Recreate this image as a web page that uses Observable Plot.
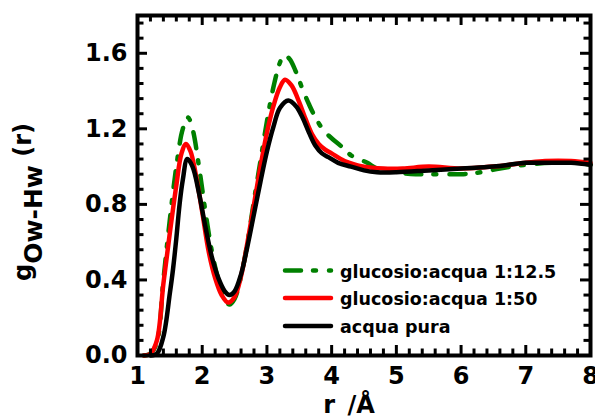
<!DOCTYPE html>
<html><head><meta charset="utf-8">
<script src="https://cdn.jsdelivr.net/npm/d3@7"></script>
<script src="https://cdn.jsdelivr.net/npm/@observablehq/plot@0.6"></script>
<style>body{margin:0;background:#fff}svg{display:block}</style>
</head><body><div id="chart"></div>
<script>
// ---- data ----
const seriesNames = ["glucosio:acqua 1:12.5", "glucosio:acqua 1:50", "acqua pura"];
const seriesColors = ["#008000", "#ff0000", "#000000"];

const rGreen = [1.1,1.2,1.3,1.4,1.5,1.6,1.7,1.78,1.85,1.95,2.05,2.15,2.25,2.35,2.42,2.5,2.6,2.7,2.8,2.9,3.0,3.1,3.2,3.26,3.35,3.45,3.55,3.65,3.75,3.88,4.0,4.14,4.3,4.55,4.7,5.0,5.3,5.6,6.0,6.3,6.6,7.0,7.4,7.8,8.0];
const gGreen = [0,0.01,0.07,0.4,0.72,1.0,1.2,1.26,1.2,1.0,0.76,0.55,0.4,0.3,0.27,0.3,0.42,0.6,0.82,1.03,1.24,1.42,1.55,1.59,1.57,1.5,1.41,1.33,1.26,1.19,1.15,1.11,1.06,1.02,0.99,0.97,0.96,0.96,0.96,0.97,0.99,1.01,1.02,1.02,1.01];

const rRed = [1.1,1.2,1.3,1.4,1.5,1.6,1.68,1.75,1.82,1.9,2.0,2.1,2.2,2.3,2.4,2.5,2.6,2.7,2.8,2.9,3.0,3.1,3.2,3.28,3.38,3.5,3.6,3.7,3.8,3.9,4.0,4.2,4.5,4.8,5.1,5.5,6.0,6.5,7.0,7.3,7.7,8.0];
const gRed = [0,0.01,0.08,0.38,0.65,0.9,1.07,1.12,1.08,0.96,0.76,0.55,0.41,0.32,0.28,0.31,0.42,0.6,0.8,1.0,1.18,1.32,1.42,1.46,1.43,1.34,1.25,1.17,1.12,1.09,1.07,1.03,1.0,0.99,0.99,1.0,0.99,1.0,1.02,1.03,1.03,1.02];

const rBlack = [1.2,1.3,1.4,1.5,1.55,1.6,1.65,1.7,1.77,1.85,1.95,2.05,2.15,2.25,2.35,2.42,2.5,2.6,2.7,2.8,2.9,3.0,3.1,3.2,3.33,3.45,3.55,3.65,3.75,3.85,3.95,4.1,4.3,4.5,4.7,5.0,5.5,6.0,6.5,7.0,7.3,7.7,8.0];
const gBlack = [0,0.01,0.1,0.33,0.46,0.62,0.8,0.93,1.04,1.0,0.86,0.68,0.52,0.41,0.34,0.32,0.34,0.43,0.58,0.75,0.92,1.08,1.21,1.31,1.35,1.32,1.26,1.18,1.11,1.07,1.05,1.02,1.0,0.98,0.97,0.97,0.98,0.99,1.0,1.02,1.02,1.02,1.01];

const xTicks = [1,2,3,4,5,6,7,8];
const xMinorTicks = [1.2,1.4,1.6,1.8,2.2,2.4,2.6,2.8,3.2,3.4,3.6,3.8,4.2,4.4,4.6,4.8,5.2,5.4,5.6,5.8,6.2,6.4,6.6,6.8,7.2,7.4,7.6,7.8];
const yTicks = [0,0.4,0.8,1.2,1.6];
const yMinorTicks = [0.08,0.16,0.24,0.32,0.48,0.56,0.64,0.72,0.88,0.96,1.04,1.12,1.28,1.36,1.44,1.52,1.68,1.76];
const xTitle = "r /Å";

// ---- layout ----
const W = 595, H = 419, ML = 137, MR = 5, MT = 15, MB = 64;
const innerW = W - ML - MR, innerH = H - MT - MB;
const MAJ = 10, MIN = 6.5;   // tick lengths from the frame edge inward

// ---- build ----
const toRows = (rs, gs) => rs.map((r, i) => ({r, g: gs[i]}));
const rows = [toRows(rGreen, gGreen), toRows(rRed, gRed), toRows(rBlack, gBlack)];
const dashes = ["16,12,3,13", null, null];
const font = "DejaVu Sans";

const marks = [];
rows.forEach((d, i) => {
  marks.push(Plot.line(d, {
    x: "r", y: "g", stroke: seriesColors[i], strokeWidth: 4.5,
    curve: "catmull-rom", strokeDasharray: dashes[i] ?? undefined,
    strokeLinecap: "round", strokeLinejoin: "round"
  }));
});
// inward ticks on all four sides
const tk = {stroke: "#000", strokeWidth: 3};
marks.push(Plot.tickX(xTicks, {x: d => d, insetTop: innerH - MAJ, ...tk}));
marks.push(Plot.tickX(xTicks, {x: d => d, insetBottom: innerH - MAJ, ...tk}));
marks.push(Plot.tickX(xMinorTicks, {x: d => d, insetTop: innerH - MIN, ...tk}));
marks.push(Plot.tickX(xMinorTicks, {x: d => d, insetBottom: innerH - MIN, ...tk}));
marks.push(Plot.tickY(yTicks, {y: d => d, insetRight: innerW - MAJ, ...tk}));
marks.push(Plot.tickY(yTicks, {y: d => d, insetLeft: innerW - MAJ, ...tk}));
marks.push(Plot.tickY(yMinorTicks, {y: d => d, insetRight: innerW - MIN, ...tk}));
marks.push(Plot.tickY(yMinorTicks, {y: d => d, insetLeft: innerW - MIN, ...tk}));
marks.push(Plot.frame({stroke: "#000", strokeWidth: 4}));
// tick labels
marks.push(Plot.axisX(xTicks, {anchor: "bottom", tickSize: 0, tickPadding: 11, tickFormat: d3.format("d"), label: null, fontSize: 24, fontWeight: "bold"}));
marks.push(Plot.axisY(yTicks, {anchor: "left", tickSize: 0, tickPadding: 10, tickFormat: d3.format(".1f"), label: null, fontSize: 24, fontWeight: "bold"}));

const plot = Plot.plot({
  width: W, height: H,
  marginLeft: ML, marginRight: MR, marginTop: MT, marginBottom: MB,
  x: {domain: [1, 8], label: null},
  y: {domain: [0, 1.8], label: null},
  style: {fontFamily: font, color: "#000", background: "#fff", overflow: "visible"},
  marks
});

const svg = d3.select(plot);
// y title with subscript
const yt = svg.append("text")
  .attr("transform", "translate(31,281) rotate(-90)")
  .attr("text-anchor", "start")
  .attr("font-family", font).attr("font-weight", "bold").attr("font-size", 24).attr("fill", "#000");
yt.append("tspan").text("g");
yt.append("tspan").attr("dy", 11).attr("font-size", 25).text("Ow-Hw");
yt.append("tspan").attr("dy", -11).text(" (r)");

// x title
svg.append("text").attr("x", 349).attr("y", 413).attr("text-anchor", "middle")
  .attr("font-family", font).attr("font-weight", "bold").attr("font-size", 24)
  .attr("word-spacing", 4).attr("fill", "#000").text(xTitle);

// legend
const legendY = [270.5, 298, 326];
seriesNames.forEach((name, i) => {
  const g = svg.append("g");
  g.append("line").attr("x1", 285).attr("x2", 331).attr("y1", legendY[i]).attr("y2", legendY[i])
    .attr("stroke", seriesColors[i]).attr("stroke-width", 4.5).attr("stroke-linecap", "round")
    .attr("stroke-dasharray", dashes[i]);
  g.append("text").attr("x", 340).attr("y", legendY[i] + 7).attr("text-anchor", "start")
    .attr("font-family", font).attr("font-weight", "bold").attr("font-size", 17.5).attr("fill", "#000")
    .text(name);
});

document.getElementById("chart").appendChild(plot);
</script>
</body></html>
